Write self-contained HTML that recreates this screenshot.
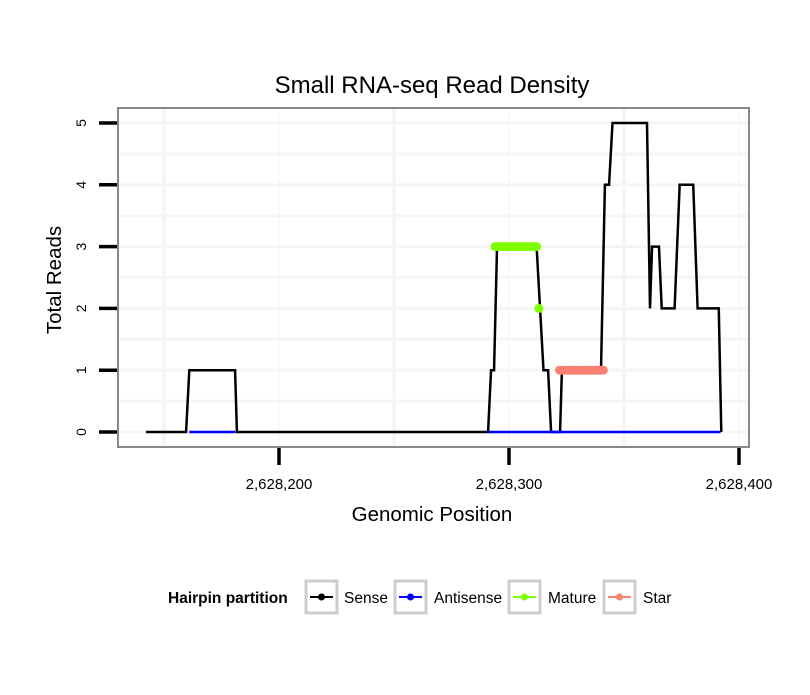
<!DOCTYPE html>
<html><head><meta charset="utf-8"><style>
body{margin:0;background:#fff;font-family:"Liberation Sans",sans-serif}
</style></head><body>
<svg id="chart" width="810" height="690" xmlns="http://www.w3.org/2000/svg" font-family="Liberation Sans, sans-serif">
<rect width="810" height="690" fill="#fff"/>
<text x="432" y="93" text-anchor="middle" font-size="24">Small RNA-seq Read Density</text>
<g id="grid"></g>
<g id="series"></g>
<rect x="118" y="108" width="631" height="339" fill="none" stroke="#888" stroke-width="2"/>
<g id="axes"></g>
<text x="432" y="521" text-anchor="middle" font-size="20.5">Genomic Position</text>
<text transform="translate(61,280) rotate(-90)" text-anchor="middle" font-size="20.5">Total Reads</text>
<g font-size="15.5">
<text x="168" y="603" font-weight="bold">Hairpin partition</text>
<g><rect x="306" y="581" width="31" height="32" fill="#fff" stroke="#ccc" stroke-width="3"/><line x1="310" y1="597" x2="333" y2="597" stroke="#000" stroke-width="2"/><circle cx="321.5" cy="597" r="3.5" fill="#000"/><text x="344" y="603">Sense</text></g>
<g><rect x="395" y="581" width="31" height="32" fill="#fff" stroke="#ccc" stroke-width="3"/><line x1="399" y1="597" x2="422" y2="597" stroke="#00f" stroke-width="2"/><circle cx="410.5" cy="597" r="3.5" fill="#00f"/><text x="434" y="603">Antisense</text></g>
<g><rect x="509" y="581" width="31" height="32" fill="#fff" stroke="#ccc" stroke-width="3"/><line x1="513" y1="597" x2="536" y2="597" stroke="#7fff00" stroke-width="2"/><circle cx="524.5" cy="597" r="3.5" fill="#7fff00"/><text x="548" y="603">Mature</text></g>
<g><rect x="604" y="581" width="31" height="32" fill="#fff" stroke="#ccc" stroke-width="3"/><line x1="608" y1="597" x2="631" y2="597" stroke="#fa8072" stroke-width="2"/><circle cx="619.5" cy="597" r="3.5" fill="#fa8072"/><text x="643" y="603">Star</text></g>
</g>
</svg>
<script>
const senseX=[142.2,159.6,161,180.9,181.7,290.9,292.2,293.5,294.8,312,313.5,315,317,318.3,322.2,323,340,341.7,343.5,345,360,361.3,362.2,365.2,366.4,372,374.2,380.1,382,391.2,392.3];
const senseY=[0,0,1,1,0,0,1,1,3,3,2,1,1,0,0,1,1,4,4,5,5,2,3,3,2,2,4,4,2,2,0];
const antiSegments=[[161,181],[291,392]];
const matureX=[294,295,296,297,298,299,300,301,302,303,304,305,306,307,308,309,310,311,312,313];
const matureY=[3,3,3,3,3,3,3,3,3,3,3,3,3,3,3,3,3,3,3,2];
const starX=[322,323,324,325,326,327,328,329,330,331,332,333,334,335,336,337,338,339,340,341];
const starY=[1,1,1,1,1,1,1,1,1,1,1,1,1,1,1,1,1,1,1,1];
const xTicks=[2628200,2628300,2628400];
const xTickLabels=["2,628,200","2,628,300","2,628,400"];
const yTicks=[0,1,2,3,4,5];
const xMinor=[150,250,350];
const base=2628000;
const X=p=>279+(p-200)*2.3;
const Y=v=>432-v*61.8;
const NS="http://www.w3.org/2000/svg";
function mk(tag,attrs,parent){const e=document.createElementNS(NS,tag);for(const k in attrs)e.setAttribute(k,attrs[k]);parent.appendChild(e);return e;}
const grid=document.getElementById('grid'),ser=document.getElementById('series'),ax=document.getElementById('axes');
xMinor.forEach(p=>{const l=mk('line',{x1:X(p),x2:X(p),y1:109,y2:446,stroke:'#f3f3f3','stroke-width':3},grid);

});
xTicks.forEach(t=>{const l=mk('line',{x1:X(t-base),x2:X(t-base),y1:109,y2:446,stroke:'#f9f9f9','stroke-width':2},grid);

});
[0.5,1.5,2.5,3.5,4.5,0,1,2,3,4,5].forEach(v=>{const l=mk('line',{x1:119,x2:748,y1:Y(v),y2:Y(v),stroke:'#f5f5f5','stroke-width':3},grid);

});
const pts=senseX.map((x,i)=>X(x)+','+Y(senseY[i])).join(' ');
const sl=mk('polyline',{points:pts,fill:'none',stroke:'#000','stroke-width':2.5},ser);


antiSegments.forEach(s=>{const l=mk('line',{x1:X(s[0]),x2:X(s[1]),y1:Y(0),y2:Y(0),stroke:'#00f','stroke-width':2.5},ser);

});
matureX.forEach((x,i)=>{const c=mk('circle',{cx:X(x),cy:Y(matureY[i]),r:4.5,fill:'#7fff00'},ser);

});
starX.forEach((x,i)=>{const c=mk('circle',{cx:X(x),cy:Y(starY[i]),r:4.5,fill:'#fa8072'},ser);

});
yTicks.forEach(v=>{const l=mk('line',{x1:99,x2:117,y1:Y(v),y2:Y(v),stroke:'#000','stroke-width':3.5},ax);


const t=mk('text',{transform:`translate(86,${Y(v)}) rotate(-90)`,'text-anchor':'middle','font-size':14},ax);t.textContent=v;

});
xTicks.forEach((v,i)=>{const x=X(v-base);const l=mk('line',{x1:x,x2:x,y1:448,y2:465,stroke:'#000','stroke-width':3.5},ax);


const t=mk('text',{x:x,y:489,'text-anchor':'middle','font-size':15},ax);t.textContent=xTickLabels[i];

});
</script>
</body></html>
